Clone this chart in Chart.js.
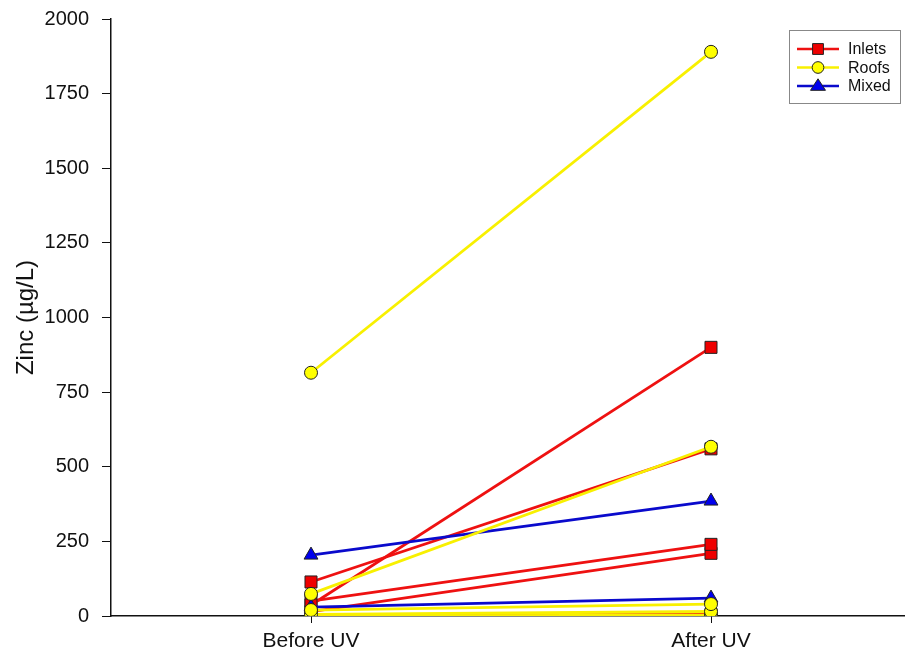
<!DOCTYPE html>
<html>
<head>
<meta charset="utf-8">
<script src="https://cdn.jsdelivr.net/npm/chart.js@4.4.1/dist/chart.umd.min.js"></script>
<style>
  html, body { margin: 0; padding: 0; background: #fff; }
  #wrap { width: 905px; height: 661px; position: relative; }
</style>
</head>
<body>
<div id="wrap"><canvas id="zincChart"></canvas></div>
<script>
// categories on the x axis
const categories = ['Before UV', 'After UV'];
const yTicks = [0, 250, 500, 750, 1000, 1250, 1500, 1750, 2000];

// each site is one before/after pair
const inletsBefore = [114, 37, 50, 15, 3];
const inletsAfter = [560, 900, 240, 210, 5];
const roofsBefore = [815, 74, 20, 5, 0];
const roofsAfter = [1890, 567, 40, 15, 3];
const mixedBefore = [204, 30];
const mixedAfter = [385, 60];

const groups = [
    { name: 'Inlets', before: inletsBefore, after: inletsAfter, line: '#ee1111', fill: '#ee0000', marker: 'rect', radius: 8.5, order: 3 },
    { name: 'Roofs', before: roofsBefore, after: roofsAfter, line: '#f8f000', fill: '#ffff00', marker: 'circle', radius: 6.5, order: 1 },
    { name: 'Mixed', before: mixedBefore, after: mixedAfter, line: '#0a0acc', fill: '#0000ee', marker: 'triangle', radius: 8, order: 2 }
];

const datasets = [];
groups.forEach(g => {
    g.before.forEach((b, i) => {
        datasets.push({
            label: g.name,
            data: [{ x: 0, y: b }, { x: 1, y: g.after[i] }],
            borderColor: g.line,
            borderWidth: 2.8,
            backgroundColor: g.fill,
            pointStyle: g.marker,
            pointRadius: g.radius,
            pointBorderColor: '#222',
            pointBorderWidth: 1,
            pointBackgroundColor: g.fill,
            order: g.order,
            tension: 0
        });
    });
});

function drawMarker(ctx, style, r, x, y) {
    if (style === 'rect') {
        const s = Math.SQRT1_2 * r;
        ctx.rect(x - s, y - s, 2 * s, 2 * s);
    } else if (style === 'circle') {
        ctx.arc(x, y, r, 0, Math.PI * 2);
    } else {
        const a = r * 0.866 * 1.2;
        ctx.moveTo(x, y - r);
        ctx.lineTo(x + a, y + r * 0.6);
        ctx.lineTo(x - a, y + r * 0.6);
        ctx.closePath();
    }
}

// legend box like the original, one line per group
const legendBox = {
    id: 'legendBox',
    afterDraw(chart) {
        const ctx = chart.ctx;
        const x0 = 789, y0 = 30, w = 111, h = 73;
        ctx.save();
        ctx.fillStyle = '#fff';
        ctx.fillRect(x0, y0, w, h);
        ctx.strokeStyle = '#888';
        ctx.lineWidth = 1;
        ctx.strokeRect(x0 + 0.5, y0 + 0.5, w, h);
        groups.forEach((g, i) => {
            const y = y0 + 19 + i * 18.5;
            ctx.strokeStyle = g.line;
            ctx.lineWidth = 2.5;
            ctx.beginPath();
            ctx.moveTo(797, y);
            ctx.lineTo(839, y);
            ctx.stroke();
            ctx.fillStyle = g.fill;
            ctx.strokeStyle = '#222';
            ctx.lineWidth = 1;
            ctx.beginPath();
            drawMarker(ctx, g.marker, g.radius * 0.9, 818, y);
            ctx.fill();
            ctx.stroke();
            ctx.fillStyle = '#111';
            ctx.font = '16px "Liberation Sans", Arial, sans-serif';
            ctx.textBaseline = 'middle';
            ctx.fillText(g.name, 848, y + 1);
        });
        ctx.restore();
    }
};

const fontFamily = '"Liberation Sans", Arial, sans-serif';

new Chart(document.getElementById('zincChart'), {
    type: 'line',
    data: { datasets },
    options: {
        responsive: true,
        maintainAspectRatio: false,
        animation: false,
        layout: { autoPadding: false, padding: { top: 19, right: 0, left: 0, bottom: 0 } },
        plugins: {
            legend: { display: false },
            tooltip: { enabled: false }
        },
        scales: {
            x: {
                type: 'linear',
                min: -0.5,
                max: 1.485,
                afterBuildTicks: scale => { scale.ticks = [{ value: 0 }, { value: 1 }]; },
                afterFit: scale => {
                    scale.height = 45;
                    scale.paddingLeft = 0;
                    scale.paddingRight = 0;
                },
                ticks: {
                    callback: v => categories[v],
                    color: '#111',
                    padding: 6,
                    font: { family: fontFamily, size: 21 }
                },
                grid: { drawOnChartArea: false, drawTicks: true, tickLength: 7, tickColor: '#111' },
                border: { display: true, color: '#111', width: 1.5 }
            },
            y: {
                min: 0,
                max: 2000,
                afterBuildTicks: scale => { scale.ticks = yTicks.map(v => ({ value: v })); },
                afterFit: scale => {
                    scale.width = 111;
                    scale.paddingTop = 0;
                    scale.paddingBottom = 0;
                },
                ticks: {
                    callback: v => String(v),
                    color: '#111',
                    padding: 13,
                    font: { family: fontFamily, size: 20 }
                },
                grid: { drawOnChartArea: false, drawTicks: true, tickLength: 9, tickColor: '#111' },
                border: { display: true, color: '#111', width: 1.5 },
                title: {
                    display: true,
                    text: 'Zinc (µg/L)',
                    color: '#111',
                    padding: { top: 12, bottom: 0 },
                    font: { family: fontFamily, size: 24 }
                }
            }
        }
    },
    plugins: [legendBox]
});
</script>
</body>
</html>
